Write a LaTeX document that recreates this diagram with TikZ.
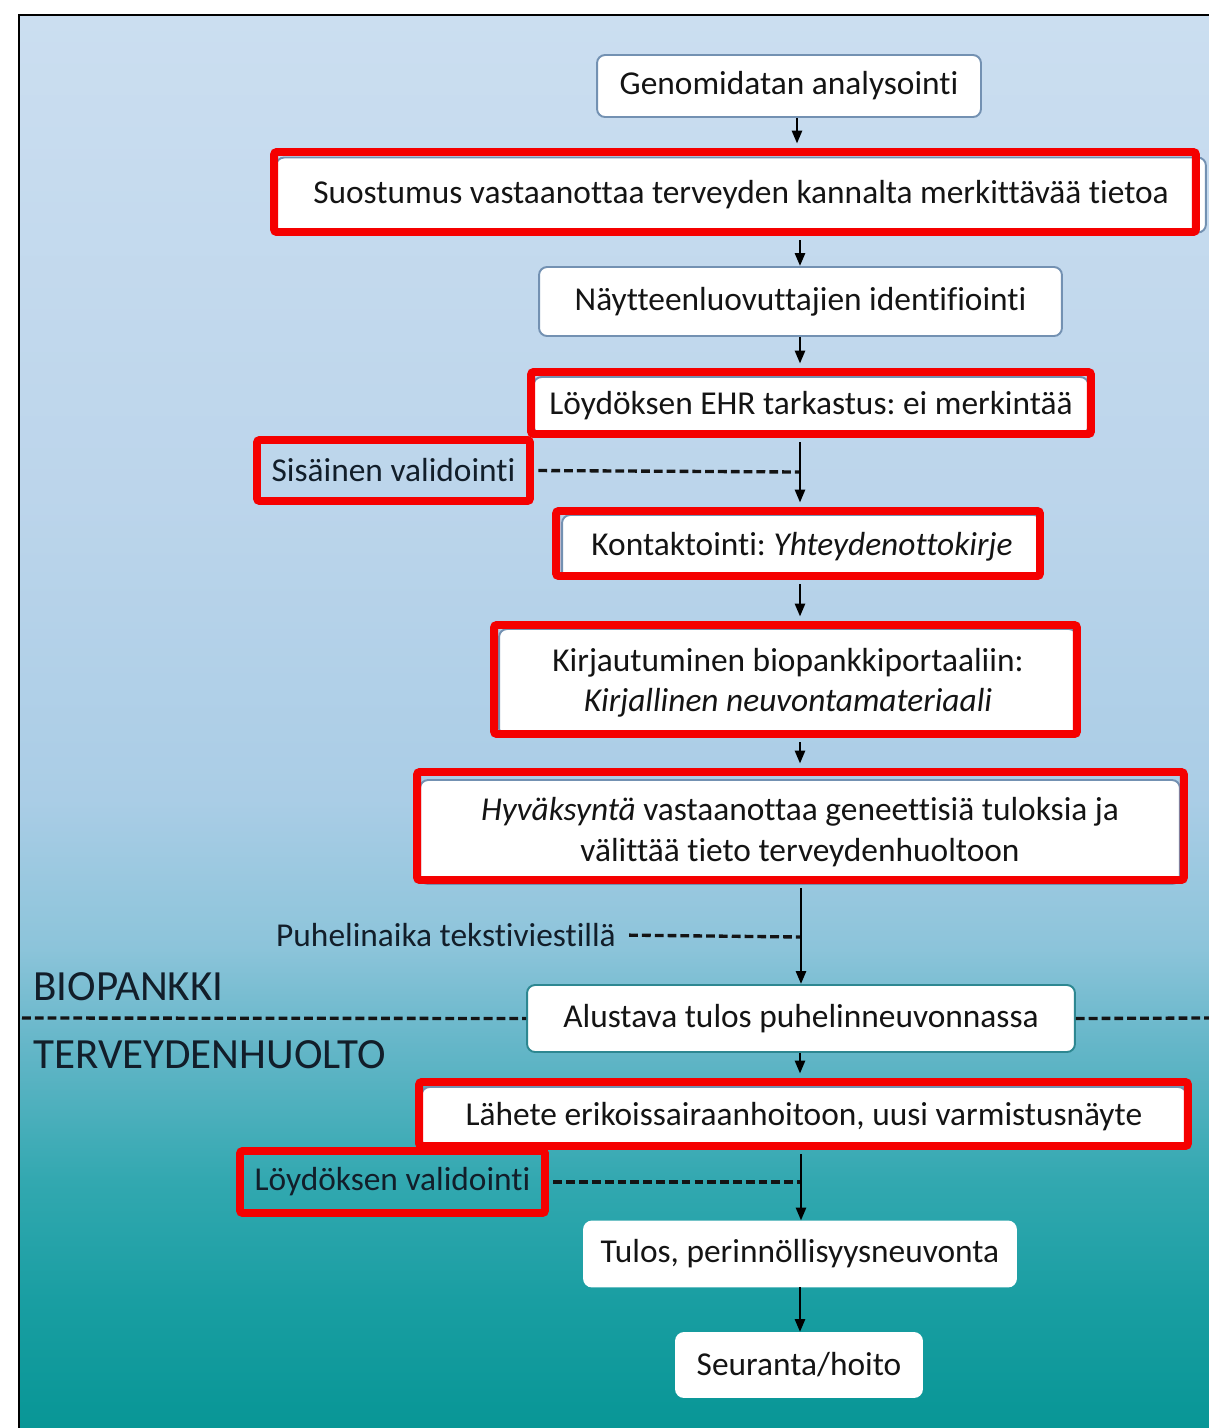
\documentclass[tikz,border=0pt]{standalone}
\usepackage{fontspec}
\setmainfont{Carlito}[Ligatures={NoCommon}]
\frenchspacing
\usetikzlibrary{arrows.meta}
\definecolor{bg0}{RGB}{8,150,150}
\definecolor{bg1}{RGB}{25,158,162}
\definecolor{bg2}{RGB}{50,168,176}
\definecolor{bg3}{RGB}{100,182,200}
\definecolor{bg4}{RGB}{140,196,218}
\definecolor{bg5}{RGB}{170,205,230}
\definecolor{bg6}{RGB}{188,213,235}
\definecolor{bg7}{RGB}{203,222,240}
\definecolor{boxblue}{RGB}{115,145,178}
\definecolor{boxteal}{RGB}{45,135,145}
\definecolor{annred}{RGB}{245,0,0}
\definecolor{txt}{RGB}{20,20,20}
\definecolor{lbltxt}{RGB}{18,30,42}
\pgfdeclareverticalshading{bgshade}{100bp}{color(0bp)=(bg0); color(25bp)=(bg0); color(29.5bp)=(bg1); color(33.75bp)=(bg2); color(38.5bp)=(bg3); color(42bp)=(bg4); color(47.25bp)=(bg5); color(58bp)=(bg6); color(75bp)=(bg7); color(100bp)=(bg7)}
\begin{document}
\begin{tikzpicture}[x=0.02cm,y=-0.02cm,
  flow/.style={draw=boxblue, line width=1.1pt, fill=white, rounded corners=0.16cm, text=txt,
    font=\fontsize{19}{23}\selectfont, inner sep=0pt, align=center},
  flowt/.style={flow, draw=boxteal},
  flowl/.style={flow, draw=white},
  redframe/.style={draw=annred, line width=4.5pt, rounded corners=1.5pt, inner sep=0pt},
  lbl/.style={text=lbltxt, font=\fontsize{19}{23}\selectfont, inner sep=0pt},
  big/.style={text=lbltxt, font=\fontsize{24.5}{28}\selectfont, inner sep=0pt, anchor=west},
  arr/.style={line width=1.5pt, draw=black, -{Triangle[length=0.26cm,width=0.2cm]}},
  dsh/.style={line width=1.9pt, draw=black!92, dash pattern=on 5pt off 2.3pt},
  rsE/.style={shorten >=0.09cm},
  rsS/.style={shorten <=0.09cm}]
\useasboundingbox (0,0) rectangle (1209,1428);
\fill[white] (0,0) rectangle (1209,1428);
\shade[shading=bgshade] (19,15) rectangle (1209,1428);
\draw[black, line width=1.6pt] (19,1428) -- (19,15) -- (1209,15);

% flow boxes
\node[flow, minimum width=7.68cm, minimum height=1.24cm] (gen) at (789,86) {Genomidatan analysointi};
\node[flow, minimum width=18.6cm, minimum height=1.5cm] (suo) at (741,195) {Suostumus vastaanottaa terveyden kannalta merkittävää tietoa};
\node[flow, minimum width=10.46cm, minimum height=1.38cm] (nay) at (800.5,301.5) {Näytteenluovuttajien identifiointi};
\node[flow, minimum width=11.1cm, minimum height=1.14cm] (ehr) at (811,405.5) {Löydöksen EHR tarkastus: ei merkintää};
\node[flow, minimum width=9.6cm, minimum height=1.28cm] (kon) at (802,547) {Kontaktointi: \textit{Yhteydenottokirje}};
\node[flow, minimum width=11.56cm, minimum height=2.14cm] (kir) at (788,682.5) {Kirjautuminen biopankkiportaaliin:\\\textit{Kirjallinen neuvontamateriaali}};
\node[flow, minimum width=15.2cm, minimum height=2.08cm] (hyv) at (800,832) {\textit{Hyväksyntä} vastaanottaa geneettisiä tuloksia ja\\välittää tieto terveydenhuoltoon};
\node[flowt, minimum width=10.96cm, minimum height=1.34cm] (alu) at (801,1018.5) {Alustava tulos puhelinneuvonnassa};
\node[flow, minimum width=15.3cm, minimum height=1.2cm] (lah) at (804,1117) {Lähete erikoissairaanhoitoon, uusi varmistusnäyte};
\node[flowl, minimum width=8.64cm, minimum height=1.3cm] (tul) at (800,1254) {Tulos, perinnöllisyysneuvonta};
\node[flowl, minimum width=4.92cm, minimum height=1.28cm] (seu) at (799,1365) {Seuranta/hoito};

% side labels
\node[lbl, redframe, text=lbltxt, minimum width=5.46cm, minimum height=1.22cm] (sis) at (393.5,470.5) {Sisäinen validointi};
\node[lbl, redframe, text=lbltxt, minimum width=6.1cm, minimum height=1.24cm] (loy) at (392.5,1182) {Löydöksen validointi};
\node[lbl] (puh) at (446,935) {Puhelinaika tekstiviestillä};
\node[big] (bio) at (33,987) {BIOPANKKI};
\node[big] (ter) at (33,1055) {TERVEYDENHUOLTO};

% red annotation frames
\node[redframe, minimum width=18.44cm, minimum height=1.6cm] (suoR) at (735,192) {};
\node[redframe, minimum width=11.2cm, minimum height=1.24cm] (ehrR) at (811,403) {};
\node[redframe, minimum width=9.68cm, minimum height=1.3cm] (konR) at (798,543.5) {};
\node[redframe, minimum width=11.66cm, minimum height=2.18cm] (kirR) at (785.5,679.5) {};
\node[redframe, minimum width=15.34cm, minimum height=2.16cm] (hyvR) at (800.5,826) {};
\node[redframe, minimum width=15.38cm, minimum height=1.28cm] (lahR) at (803.5,1114) {};

% junction coordinates
\coordinate (j1) at (800,472);
\coordinate (j2) at (801,937);
\coordinate (j3) at (801,1182);
\coordinate (dl) at (22,1018);
\coordinate (dr) at (1209,1018);

% dashed lines
\draw[dsh, rsS] (sis.east) -- (j1);
\draw[dsh, shorten <=0.26cm] (puh.east) -- (j2);
\draw[dsh, rsS] (loy.east) -- (j3);
\draw[dsh] (dl) -- (alu.west);
\draw[dsh] (alu.east) -- (dr);

% arrows
\draw[arr, rsE] (gen.south -| 797,0) -- (suoR.north -| 797,0);
\draw[arr, rsS] (suoR.south -| 800,0) -- (nay.north -| 800,0);
\draw[arr, rsE] (nay.south -| 800,0) -- (ehrR.north -| 800,0);
\draw[arr, rsS, rsE] (ehrR.south -| 800,0) -- (konR.north -| 800,0);
\draw[arr, rsS, rsE] (konR.south -| 800,0) -- (kirR.north -| 800,0);
\draw[arr, rsS, rsE] (kirR.south -| 800,0) -- (hyvR.north -| 800,0);
\draw[arr, rsS] (hyvR.south -| 801,0) -- (alu.north -| 801,0);
\draw[arr, rsE] (alu.south -| 800,0) -- (lahR.north -| 800,0);
\draw[arr, rsS] (lahR.south -| 801,0) -- (tul.north -| 801,0);
\draw[arr] (tul.south -| 800,0) -- (seu.north -| 800,0);
\end{tikzpicture}
\end{document}
